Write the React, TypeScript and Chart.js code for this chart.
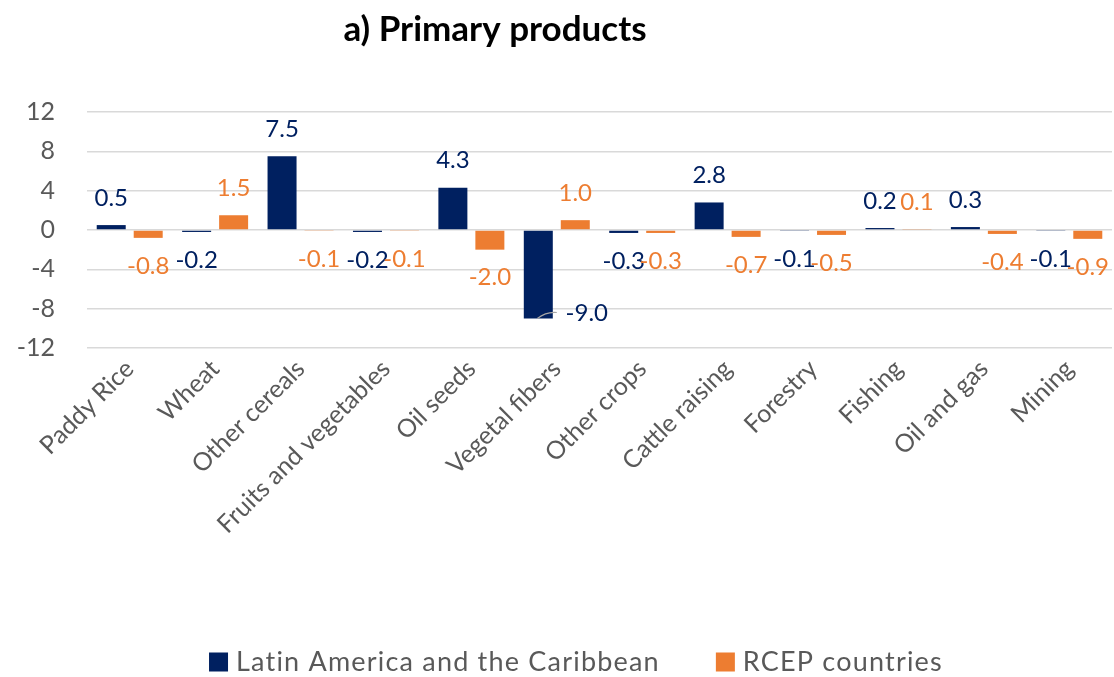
import React, { useEffect, useRef } from "react";
import { Chart, registerables } from "chart.js";

Chart.register(...registerables);

const chartTitle = "a) Primary products";
const categories = [
  "Paddy Rice",
  "Wheat",
  "Other cereals",
  "Fruits and vegetables",
  "Oil seeds",
  "Vegetal fibers",
  "Other crops",
  "Cattle raising",
  "Forestry",
  "Fishing",
  "Oil and gas",
  "Mining",
];
const seriesNames = ["Latin America and the Caribbean", "RCEP countries"];
const latinAmerica = [0.5, -0.2, 7.5, -0.2, 4.3, -9.0, -0.3, 2.8, -0.1, 0.2, 0.3, -0.1];
const rcep = [-0.8, 1.5, -0.1, -0.1, -2.0, 1.0, -0.3, -0.7, -0.5, 0.1, -0.4, -0.9];
const yMin = -12;
const yMax = 12;
const yStep = 4;

const NAVY = "#002060";
const ORANGE = "#ED7D31";
const GRAY = "#595959";
const FONT = "Lato, 'Open Sans', sans-serif";

const titlePlugin = {
  id: "customTitle",
  afterDraw(chart: any) {
    const ctx = chart.ctx;
    ctx.save();
    ctx.font = `bold 35px ${FONT}`;
    ctx.fillStyle = "#000000";
    ctx.textAlign = "center";
    ctx.textBaseline = "middle";
    ctx.fillText(chartTitle, 495, 30);
    ctx.restore();
  },
};

const legendPlugin = {
  id: "customLegend",
  afterDraw(chart: any) {
    const ctx = chart.ctx;
    ctx.save();
    ctx.font = `27px ${FONT}`;
    try {
      (ctx as any).letterSpacing = "1.2px";
    } catch (e) {}
    ctx.textBaseline = "middle";
    ctx.textAlign = "left";
    const box = 19;
    const gapBoxText = 8;
    const gapItems = 56;
    const items = chart.data.datasets.map((ds: any) => ({
      text: ds.label as string,
      color: ds.backgroundColor as string,
      w: ctx.measureText(ds.label).width,
    }));
    let total = 0;
    items.forEach((it: any, i: number) => {
      total += box + gapBoxText + it.w + (i < items.length - 1 ? gapItems : 0);
    });
    let x = 576 - total / 2;
    const cy = 662;
    items.forEach((it: any) => {
      ctx.fillStyle = it.color;
      ctx.fillRect(x, cy - box / 2, box, box);
      x += box + gapBoxText;
      ctx.fillStyle = GRAY;
      ctx.fillText(it.text, x, cy);
      x += it.w + gapItems;
    });
    ctx.restore();
  },
};

const labelPlugin = {
  id: "barValueLabels",
  afterDatasetsDraw(chart: any) {
    const ctx = chart.ctx;
    const area = chart.chartArea;
    ctx.save();
    ctx.font = `24px ${FONT}`;
    ctx.textAlign = "center";
    ctx.textBaseline = "middle";
    chart.data.datasets.forEach((ds: any, i: number) => {
      const meta = chart.getDatasetMeta(i);
      meta.data.forEach((bar: any, j: number) => {
        const v = ds.data[j] as number;
        const text = v.toFixed(1);
        ctx.fillStyle = ds.labelColor;
        if (v >= 0) {
          ctx.fillText(text, bar.x, bar.y - 27);
        } else if (bar.y + 28 > area.bottom - 12) {
          // label beside the bar with a short leader line
          const lx = bar.x + bar.width / 2 + 34;
          const ly = bar.y - 5;
          ctx.strokeStyle = "#A6A6A6";
          ctx.lineWidth = 1.2;
          ctx.beginPath();
          ctx.moveTo(bar.x - 1, bar.y);
          ctx.quadraticCurveTo(bar.x + 8, bar.y - 7, bar.x + bar.width / 2 + 4, bar.y - 6);
          ctx.stroke();
          ctx.fillText(text, lx, ly);
        } else {
          ctx.fillText(text, bar.x, bar.y + 28);
        }
      });
    });
    ctx.restore();
  },
};

export default function App() {
  const canvasRef = useRef<HTMLCanvasElement | null>(null);

  useEffect(() => {
    document.body.style.margin = "0";
    const canvas = canvasRef.current;
    if (!canvas) return;
    const chart = new Chart(canvas, {
      type: "bar",
      data: {
        labels: categories,
        datasets: [
          {
            label: seriesNames[0],
            data: latinAmerica,
            backgroundColor: NAVY,
            labelColor: NAVY,
            categoryPercentage: 0.866,
            barPercentage: 0.784,
          } as any,
          {
            label: seriesNames[1],
            data: rcep,
            backgroundColor: ORANGE,
            labelColor: ORANGE,
            categoryPercentage: 0.866,
            barPercentage: 0.784,
          } as any,
        ],
      },
      options: {
        responsive: false,
        animation: false,
        layout: { padding: { left: 0, right: 2, top: 112, bottom: 0 } },
        plugins: {
          title: { display: false },
          tooltip: { enabled: false },
          legend: { display: false },
        },
        scales: {
          x: {
            grid: { display: false, drawTicks: false },
            border: { display: false },
            ticks: {
              autoSkip: false,
              minRotation: 45,
              maxRotation: 45,
              padding: 6,
              color: GRAY,
              font: { family: FONT, size: 25 },
            },
            afterFit(scale: any) {
              scale.height = 329;
            },
          },
          y: {
            min: yMin,
            max: yMax,
            grid: { color: "#D9D9D9", lineWidth: 1.5, drawTicks: false },
            border: { display: false },
            ticks: {
              stepSize: yStep,
              padding: 32,
              color: GRAY,
              font: { family: FONT, size: 25 },
            },
            afterFit(scale: any) {
              scale.width = 87;
            },
          },
        },
      },
      plugins: [titlePlugin, labelPlugin, legendPlugin],
    });
    return () => chart.destroy();
  }, []);

  return (
    <div style={{ width: 1114, height: 677, background: "#ffffff" }}>
      <canvas ref={canvasRef} width={1114} height={677} />
    </div>
  );
}
